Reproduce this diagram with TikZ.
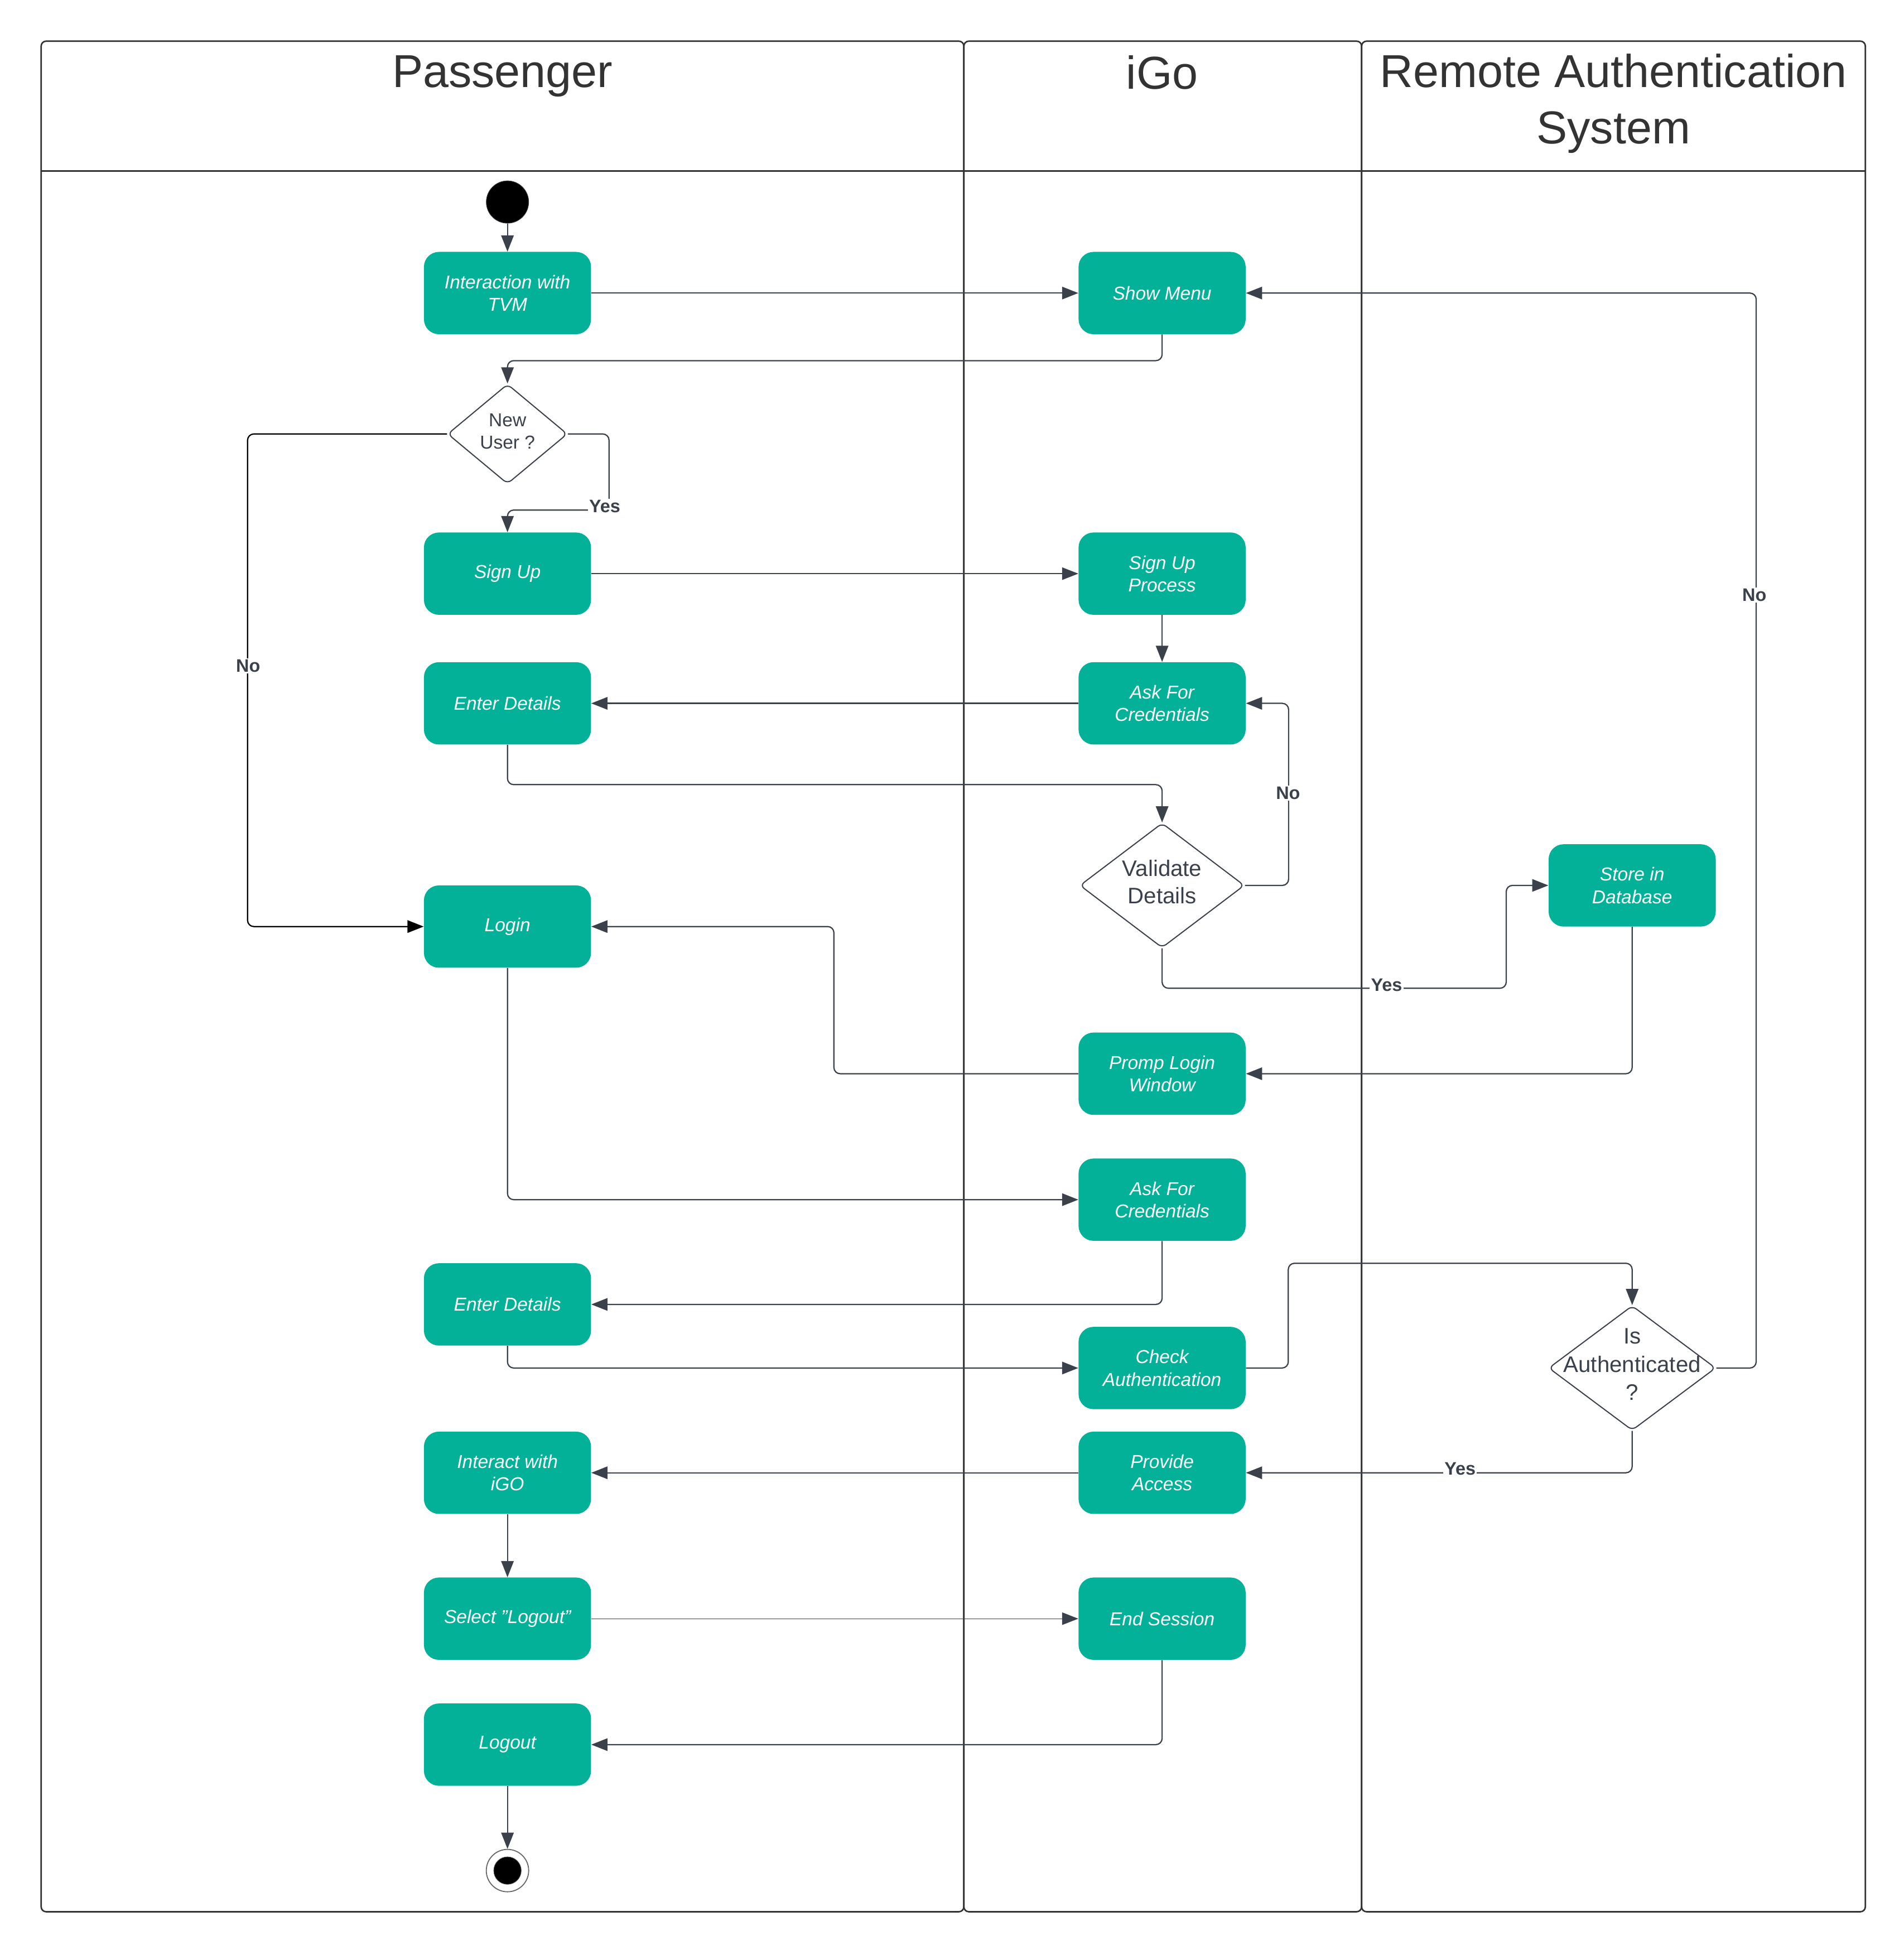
\documentclass[tikz,border=0pt]{standalone}
\usepackage{fontspec}
\setmainfont{Liberation Sans}
\usetikzlibrary{shapes.geometric,arrows.meta}
\definecolor{tealbox}{HTML}{03B098}
\definecolor{linec}{HTML}{3A414A}
\definecolor{lanec}{HTML}{333333}
\tikzset{
  lane/.style={draw=lanec, line width=1.2pt, rounded corners=4pt},
  hdr/.style={text=lanec, font=\fontsize{37}{45}\selectfont, align=center, inner sep=0pt},
  act/.style={rectangle, rounded corners=12pt, fill=tealbox, minimum width=134pt, minimum height=66pt,
    text=white, font=\fontsize{15}{18}\selectfont\itshape, align=center, inner sep=2pt},
  dec/.style={diamond, draw=linec, line width=0.9pt, rounded corners=4pt, fill=white, inner sep=0pt},
  dectxt/.style={text=linec, align=center, inner sep=0pt},
  arr/.style={draw=linec, line width=1pt, rounded corners=5pt, -{Triangle[length=13pt,width=10pt]}},
  thinarr/.style={arr, line width=0.6pt},
  lbl/.style={fill=white, text=linec, font=\fontsize{14.5}{16}\selectfont\bfseries, inner sep=1pt}
}
\begin{document}
\begin{tikzpicture}[x=1pt,y=-1pt]
\useasboundingbox (0,0) rectangle (1527,1563.7);
% lanes
\draw[lane] (33,33) rectangle (773,1533);
\draw[lane] (773,33) rectangle (1092,1533);
\draw[lane] (1092,33) rectangle (1496,1533);
\draw[draw=lanec, line width=1.2pt] (33,137) -- (1496,137);
\node[hdr] (hP) at (403,61) {Passenger};
\node[hdr] (hI) at (932,58) {iGo};
\node[hdr] (hR) at (1294,83) {Remote Authentication\\System};

% Passenger column
\node[circle, fill=black, draw=linec, minimum size=34pt, inner sep=0pt] (start) at (407,162) {};
\node[act] (tvm) at (407,235) {Interaction with\\TVM};
\node[dec, minimum width=96pt, minimum height=80pt] (newu) at (407,348) {};
\node[dectxt, font=\fontsize{15}{18}\selectfont] (newut) at (407,346) {New\\User ?};
\node[act] (signup) at (407,460) {Sign Up};
\node[act] (ed1) at (407,564) {Enter Details};
\node[act] (login) at (407,743) {Login};
\node[act] (ed2) at (407,1046) {Enter Details};
\node[act] (iigo) at (407,1181) {Interact with\\iGO};
\node[act] (sel) at (407,1298) {Select "Logout"};
\node[act] (logout) at (407,1399) {Logout};
\node[circle, draw=gray!80!black, line width=0.8pt, fill=white, minimum size=34pt, inner sep=0pt] (endc) at (407,1500) {};
\node[circle, fill=black, draw=gray!60!black, minimum size=22pt, inner sep=0pt] (endin) at (407,1500) {};

% iGo column
\node[act] (menu) at (932,235) {Show Menu};
\node[act] (sup) at (932,460) {Sign Up\\Process};
\node[act] (ask1) at (932,564) {Ask For\\Credentials};
\node[dec, minimum width=132pt, minimum height=100pt] (val) at (932,710) {};
\node[dectxt, font=\fontsize{18}{22}\selectfont] (valt) at (932,707) {Validate\\Details};
\node[act] (promp) at (932,861) {Promp Login\\Window};
\node[act] (ask2) at (932,962) {Ask For\\Credentials};
\node[act] (check) at (932,1097) {Check\\Authentication};
\node[act] (prov) at (932,1181) {Provide\\Access};
\node[act] (endss) at (932,1298) {End Session};

% Remote column
\node[act] (store) at (1309,710) {Store in\\Database};
\node[dec, minimum width=134pt, minimum height=100pt] (isa) at (1309,1097) {};
\node[dectxt, font=\fontsize{18}{22.5}\selectfont] (isat) at (1309,1094) {Is\\Authenticated\\?};

% connectors
\draw[arr] (start) -- (tvm);
\draw[arr] (tvm) -- (menu);
\draw[arr] (menu.south) -- ++(0,21) -| (newu.north);
\draw[arr] (newu.east) -- ++(33,0) -- ++(0,61) -| (signup.north);
\draw[arr, draw=black] (newu.west) -| ++(-160,395) -- (login.west);
\draw[thinarr] (signup) -- (sup);
\draw[arr] (sup) -- (ask1);
\draw[arr] (ask1) -- (ed1);
\draw[arr] (ed1.south) -- ++(0,32) -| (val.north);
\draw[arr] (val.east) -- ++(35,0) |- (ask1.east);
\draw[arr] (val.south) |- ++(276,32) |- (store.west);
\draw[arr] (store.south) |- (promp.east);
\draw[arr] (promp.west) -- ++(-196,0) |- (login.east);
\draw[arr] (login.south) |- (ask2.west);
\draw[arr] (ask2.south) |- (ed2.east);
\draw[arr] (ed2.south) |- (check.west);
\draw[arr] (check.east) -- ++(34,0) -- ++(0,-84) -| (isa.north);
\draw[arr] (isa.east) -- ++(32,0) |- (menu.east);
\draw[arr] (isa.south) |- (prov.east);
\draw[arr] (prov) -- (iigo);
\draw[arr] (iigo) -- (sel);
\draw[thinarr] (sel) -- (endss);
\draw[arr] (endss.south) |- (logout.east);
\draw[arr] (logout) -- (endc);

% labels
\node[lbl] (l1) at (485,406) {Yes};
\node[lbl] (l2) at (199,534) {No};
\node[lbl] (l3) at (1033,636) {No};
\node[lbl] (l4) at (1112,790) {Yes};
\node[lbl] (l5) at (1407,477) {No};
\node[lbl] (l6) at (1171,1178) {Yes};
\end{tikzpicture}
\end{document}
